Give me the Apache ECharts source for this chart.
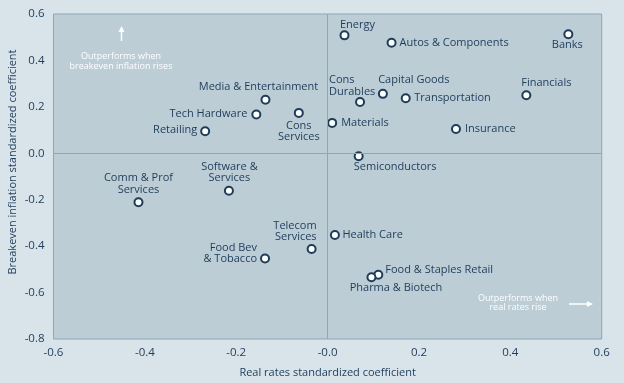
<!DOCTYPE html>
<html><head><meta charset="utf-8">
<script src="https://cdn.jsdelivr.net/npm/echarts@6/dist/echarts.min.js"></script>
<style>html,body{margin:0;padding:0;background:#d8e3ea;}#c{width:624px;height:383px;}</style>
</head><body><div id="c"></div>
<script>
var sectors = ['Energy','Autos & Components','Banks','Cons\nDurables','Capital Goods','Transportation','Financials','Materials','Insurance','Semiconductors','Media & Entertainment','Tech Hardware','Cons\nServices','Retailing','Software &\nServices','Comm & Prof\nServices','Food Bev\n& Tobacco','Telecom\nServices','Health Care','Food & Staples Retail','Pharma & Biotech'];
var realRates = [0.037,0.140,0.527,0.071,0.121,0.171,0.435,0.010,0.281,0.068,-0.136,-0.156,-0.063,-0.268,-0.216,-0.414,-0.137,-0.035,0.016,0.111,0.096];
var breakeven = [0.508,0.476,0.513,0.221,0.256,0.237,0.250,0.131,0.105,-0.013,0.231,0.167,0.174,0.095,-0.161,-0.211,-0.453,-0.412,-0.352,-0.523,-0.534];
var xTickLabels = ['-0.6','-0.4','-0.2','-0.0','0.2','0.4','0.6'];
var yTickLabels = ['-0.8','-0.6','-0.4','-0.2','0.0','0.2','0.4','0.6'];

// label placement (style only): [align, dx, dy]
var labelPlace = {
 'Energy':['center',13,-10],
 'Autos & Components':['left',8,0],
 'Banks':['center',-1,11],
 'Cons\nDurables':['left',-31,-16],
 'Capital Goods':['center',31,-14],
 'Transportation':['left',8.5,0],
 'Financials':['center',20,-12],
 'Materials':['left',9,0],
 'Insurance':['left',9,0],
 'Semiconductors':['center',36.5,11],
 'Media & Entertainment':['center',-7,-12.5],
 'Tech Hardware':['right',-9,-0.5],
 'Cons\nServices':['center',0,18.5],
 'Retailing':['right',-8,-1],
 'Software &\nServices':['center',0.5,-18.5],
 'Comm & Prof\nServices':['center',0,-18.5],
 'Food Bev\n& Tobacco':['right',-8,-5],
 'Telecom\nServices':['right',5,-17.5],
 'Health Care':['left',7.5,0],
 'Food & Staples Retail':['left',7,-4.5],
 'Pharma & Biotech':['center',24.5,10.5]
};

var navy = '#1d3c5a';
var font = 'Open Sans';
var data = sectors.map(function(n,i){
  var p = labelPlace[n];
  return {name:n, value:[realRates[i], breakeven[i]],
    label:{show:true, formatter:n, position:'inside', align:p[0], verticalAlign:'middle', offset:[p[1],p[2]],
      color:navy, fontFamily:font, fontSize:11, lineHeight:11.5}};
});

var chart = echarts.init(document.getElementById('c'), null, {renderer:'canvas'});
chart.setOption({
  backgroundColor:'#d8e3ea',
  animation:false,
  grid:{left:53.5, right:22.3, top:14, bottom:44, show:true, backgroundColor:'#bccdd6', borderColor:'#8ea6b6', borderWidth:1},
  xAxis:{type:'value', min:-0.6, max:0.6, interval:0.2,
    axisLine:{show:false}, axisTick:{show:false}, splitLine:{show:false},
    axisLabel:{color:navy, fontFamily:font, fontSize:11.5, margin:8,
      formatter:function(v){ return xTickLabels[Math.round((v+0.6)/0.2)]; }},
    name:'Real rates standardized coefficient', nameLocation:'middle', nameGap:28,
    nameTextStyle:{color:navy, fontFamily:font, fontSize:11}},
  yAxis:{type:'value', min:-0.8, max:0.6, interval:0.2,
    axisLine:{show:false}, axisTick:{show:false}, splitLine:{show:false},
    axisLabel:{color:navy, fontFamily:font, fontSize:11.5, margin:9,
      formatter:function(v){ return yTickLabels[Math.round((v+0.8)/0.2)]; }}},
  graphic:[
    {type:'text', x:13, y:162, rotation:Math.PI/2, style:{text:'Breakeven inflation standardized coefficient', fill:navy, font:'11px "Open Sans"', align:'center', verticalAlign:'middle'}},
    {type:'text', x:121, y:61.5, style:{text:'Outperforms when\nbreakeven inflation rises', fill:'#ffffff', font:'9px "Open Sans"', lineHeight:9.5, align:'center', verticalAlign:'middle'}},
    {type:'line', shape:{x1:121.5, y1:41, x2:121.5, y2:30}, style:{stroke:'#ffffff', lineWidth:1.5}},
    {type:'polygon', shape:{points:[[121.5,26],[118.5,32],[124.5,32]]}, style:{fill:'#ffffff'}},
    {type:'text', x:518, y:303, style:{text:'Outperforms when\nreal rates rise', fill:'#ffffff', font:'9px "Open Sans"', lineHeight:9.5, align:'center', verticalAlign:'middle'}},
    {type:'line', shape:{x1:569, y1:304, x2:588, y2:304}, style:{stroke:'#ffffff', lineWidth:1.5}},
    {type:'polygon', shape:{points:[[593,304],[587,301],[587,307]]}, style:{fill:'#ffffff'}}
  ],
  series:[{
    type:'scatter', symbol:'circle', symbolSize:8,
    itemStyle:{color:'#ffffff', borderColor:navy, borderWidth:2, opacity:1},
    data:data,
    markLine:{silent:true, symbol:'none', label:{show:false},
      lineStyle:{color:'#8ea6b6', type:'solid', width:1},
      data:[{xAxis:0},{yAxis:0}]},
    z:3
  }]
});
</script></body></html>
